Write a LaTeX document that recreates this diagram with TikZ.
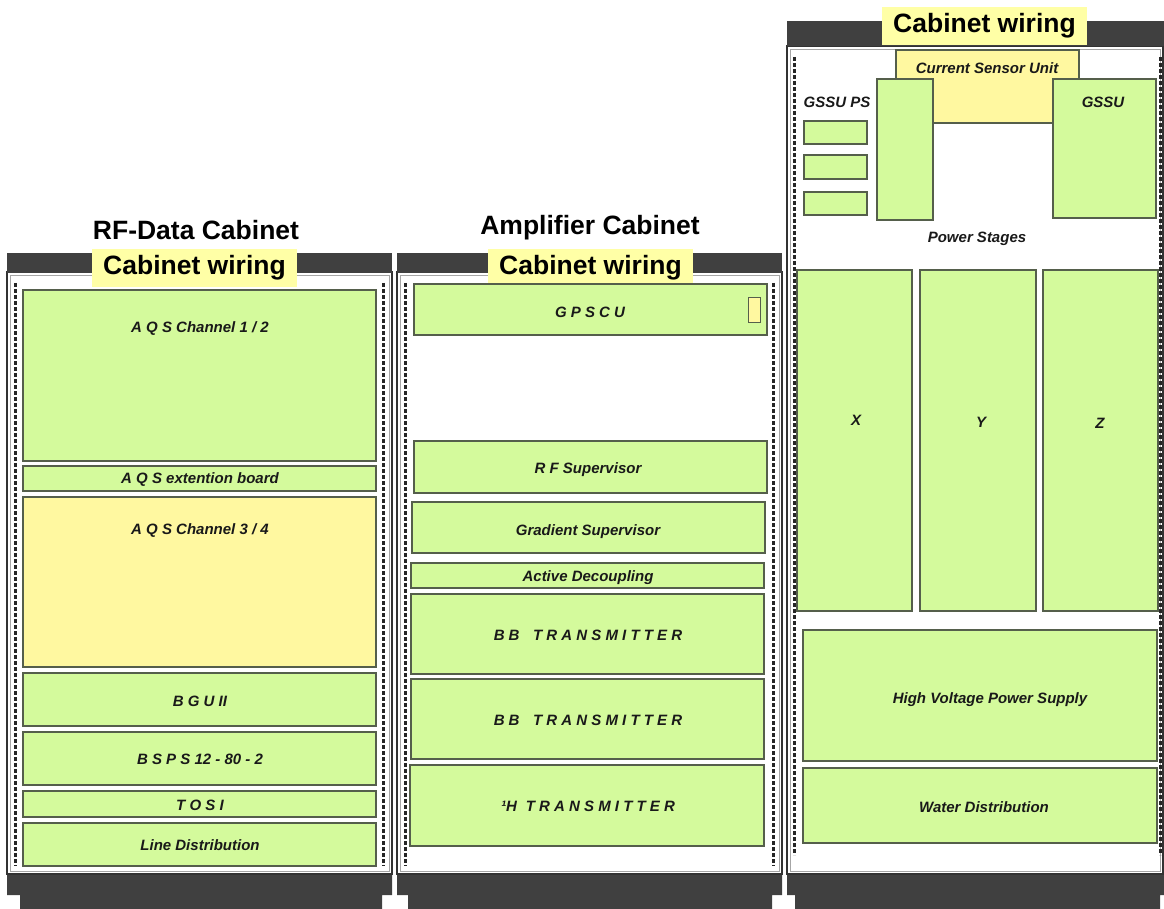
\documentclass[tikz,border=0pt]{standalone}
\usepackage{fontspec}
\setmainfont{Liberation Sans}
\definecolor{cgreen}{RGB}{212,250,156}
\definecolor{cyellow}{RGB}{255,248,160}
\definecolor{lyellow}{RGB}{255,255,166}
\definecolor{darkbar}{RGB}{64,64,64}
\definecolor{edgec}{RGB}{85,95,75}
\tikzset{
  gbox/.style={draw=edgec, line width=1.2pt, fill=cgreen},
  ybox/.style={draw=edgec, line width=1.2pt, fill=cyellow},
  bar/.style={fill=darkbar, draw=none},
  body/.style={draw=black!80, line width=1.4pt, fill=white},
  inner/.style={draw=black!35, line width=0.6pt},
  cdots/.style={draw=black!85, line width=3pt, dash pattern=on 4pt off 2pt},
  lbl/.style={font=\fontsize{15}{17}\selectfont\bfseries\itshape, text=black!90, inner sep=0pt},
  ttl/.style={font=\fontsize{26.5}{29}\selectfont\bfseries, text=black, inner sep=0pt},
  wire/.style={fill=lyellow, font=\fontsize{26.5}{29}\selectfont\bfseries, inner sep=0pt, minimum width=205pt, minimum height=38pt}
}
\begin{document}
\begin{tikzpicture}[x=1pt,y=-1pt]
\useasboundingbox (0,0) rectangle (1164,909);
% ---------- Left cabinet ----------
\path[body] (7,272) rectangle (392,874);
\draw[inner] (10,275) rectangle (389,871);
\path[bar] (7,253) rectangle (392,273);
\path[bar] (7,875) -- (392,875) -- (392,895) -- (382,895) -- (382,909) -- (20,909) -- (20,895) -- (7,895) -- cycle;
\node[wire] (w1) at (194.5,268) {Cabinet wiring};
\node[ttl] (t1) at (196,230) {RF-Data Cabinet};
\draw[cdots] (15,283) -- (15,866);
\draw[cdots] (383,283) -- (383,866);
\draw[gbox] (23,290) rectangle (376,461);
\draw[gbox] (23,466) rectangle (376,491);
\draw[ybox] (23,497) rectangle (376,667);
\draw[gbox] (23,673) rectangle (376,726);
\draw[gbox] (23,732) rectangle (376,785);
\draw[gbox] (23,791) rectangle (376,817);
\draw[gbox] (23,823) rectangle (376,866);
\node[lbl] (aqs12) at (200,329) {A Q S Channel 1 / 2};
\node[lbl] (aqsx) at (200,480) {A Q S extention board};
\node[lbl] (aqs34) at (200,531) {A Q S Channel 3 / 4};
\node[lbl] (bgu) at (200,701) {B G U II};
\node[lbl] (bsps) at (200,759) {B S P S 12 - 80 - 2};
\node[lbl] (tosi) at (200,805) {T O S I};
\node[lbl] (line) at (200,845) {Line Distribution};
% ---------- Middle cabinet ----------
\path[body] (397,272) rectangle (782,874);
\draw[inner] (400,275) rectangle (779,871);
\path[bar] (397,253) rectangle (782,273);
\path[bar] (397,875) -- (782,875) -- (782,895) -- (772,895) -- (772,909) -- (408,909) -- (408,895) -- (397,895) -- cycle;
\node[wire] (w2) at (590.5,268) {Cabinet wiring};
\node[ttl] (t2) at (590,228) {Amplifier Cabinet};
\draw[cdots] (405,283) -- (405,866);
\draw[cdots] (773,283) -- (773,866);
\draw[gbox] (414,284) rectangle (767,335);
\draw[ybox, line width=1pt] (748,297) rectangle (760,322);
\draw[gbox] (414,441) rectangle (767,493);
\draw[gbox] (412,502) rectangle (765,553);
\draw[gbox] (411,563) rectangle (764,588);
\draw[gbox] (411,594) rectangle (764,674);
\draw[gbox] (411,679) rectangle (764,759);
\draw[gbox] (410,765) rectangle (764,846);
\node[lbl] (gpscu) at (590,312) {G P S C U};
\node[lbl] (rfs) at (588,470) {R F Supervisor};
\node[lbl] (grs) at (588,532) {Gradient Supervisor};
\node[lbl] (act) at (588,578) {Active Decoupling};
\node[lbl] (bb1) at (588,635) {B B\hspace{0.9em}T R A N S M I T T E R};
\node[lbl] (bb2) at (588,720) {B B\hspace{0.9em}T R A N S M I T T E R};
\node[lbl] (h1) at (588,806) {¹H\hspace{0.6em}T R A N S M I T T E R};
% ---------- Right cabinet ----------
\path[body] (787,46) rectangle (1163,874);
\draw[inner] (790,49) rectangle (1160,871);
\path[bar] (787,21) rectangle (1164,46);
\path[bar] (787,875) -- (1164,875) -- (1164,895) -- (1160,895) -- (1160,909) -- (795,909) -- (795,895) -- (787,895) -- cycle;
\node[wire] (w3) at (984.5,26) {Cabinet wiring};
\draw[cdots] (794,57) -- (794,855);
\draw[cdots] (1160,57) -- (1160,855);
\draw[ybox] (896,50) rectangle (1079,123);
\draw[gbox] (877,79) rectangle (933,220);
\draw[gbox] (1053,79) rectangle (1156,218);
\draw[gbox] (804,121) rectangle (867,144);
\draw[gbox] (804,155) rectangle (867,179);
\draw[gbox] (804,192) rectangle (867,215);
\draw[gbox] (797,270) rectangle (912,611);
\draw[gbox] (920,270) rectangle (1036,611);
\draw[gbox] (1043,270) rectangle (1158,611);
\draw[gbox] (803,630) rectangle (1157,761);
\draw[gbox] (803,768) rectangle (1157,843);
\node[lbl] (csu) at (987,68) {Current Sensor Unit};
\node[lbl] (gssups) at (837,102) {GSSU PS};
\node[lbl] (gssu) at (1103,102) {GSSU};
\node[lbl] (ps) at (977,239) {Power Stages};
\node[lbl] (x) at (856,420) {X};
\node[lbl] (y) at (981,422) {Y};
\node[lbl] (z) at (1100,423) {Z};
\node[lbl] (hv) at (990,700) {High Voltage Power Supply};
\node[lbl] (wd) at (984,807) {Water Distribution};
\end{tikzpicture}
\end{document}
